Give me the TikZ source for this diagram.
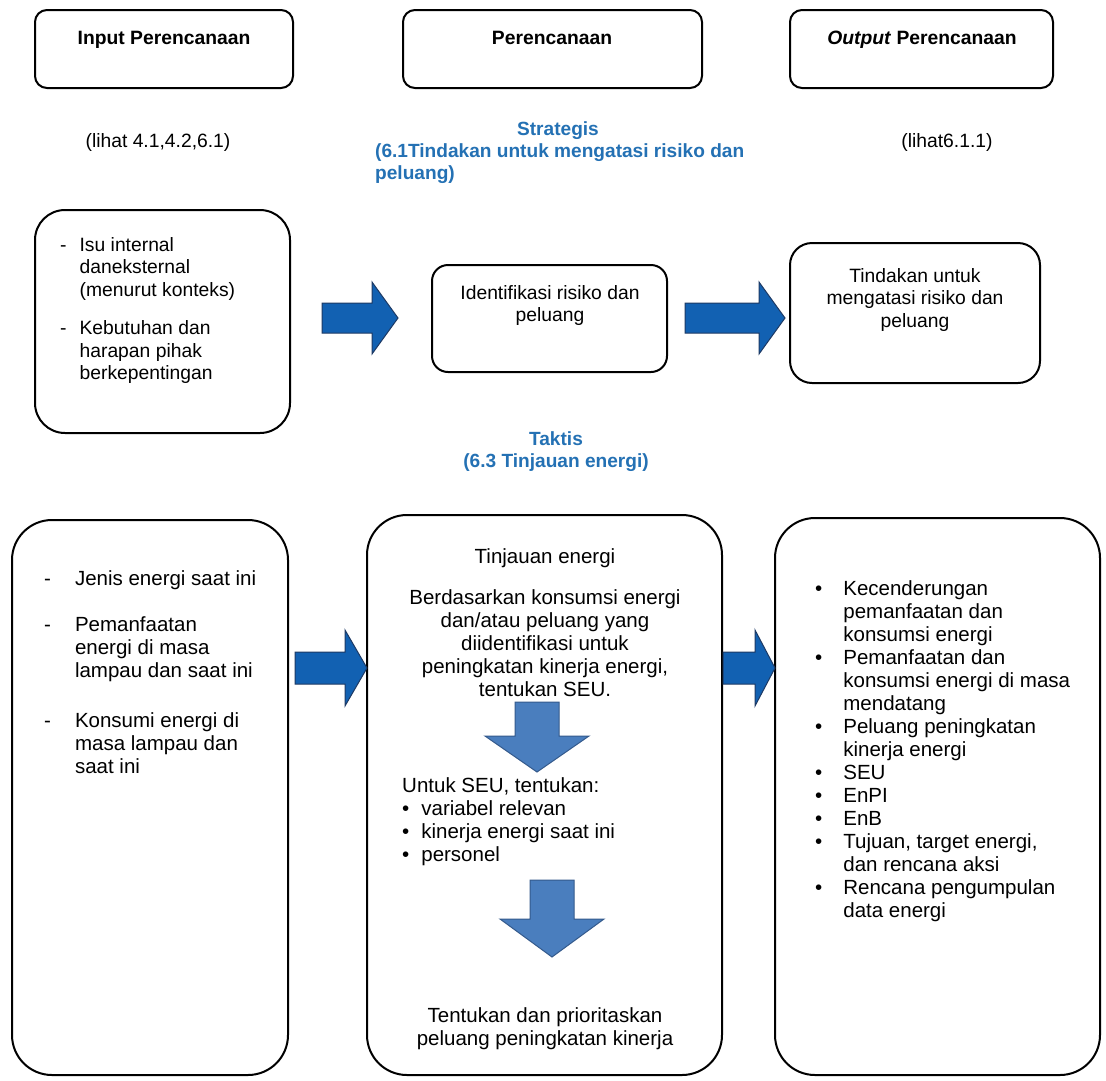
\documentclass[tikz,border=0pt]{standalone}
\usepackage{fontspec}
\setmainfont{Liberation Sans}
\definecolor{arrowdark}{RGB}{18,97,178}
\definecolor{arrowdarkline}{RGB}{30,58,100}
\definecolor{arrowlight}{RGB}{74,126,190}
\definecolor{arrowlightline}{RGB}{52,90,140}
\definecolor{bluetext}{RGB}{36,113,180}
\newcommand{\blk}[2]{\begin{tabular}[t]{@{}#1@{}}#2\end{tabular}}
\newcommand{\rightblock}[6]{%
  \draw[bigarrow] (#1,#3-#4) -- (#2-#6,#3-#4) -- (#2-#6,#3-#5) -- (#2,#3)
    -- (#2-#6,#3+#5) -- (#2-#6,#3+#4) -- (#1,#3+#4) -- cycle;}
\newcommand{\downblock}[6]{%
  \draw[downarrow] (#1-#4,#2) -- (#1+#4,#2) -- (#1+#4,#3-#6) -- (#1+#5,#3-#6)
    -- (#1,#3) -- (#1-#5,#3-#6) -- (#1-#4,#3-#6) -- cycle;}
\begin{document}
\begin{tikzpicture}[x=1pt,y=-1pt,
  box/.style={draw=black, line width=2pt, fill=white, inner sep=0pt},
  bigarrow/.style={fill=arrowdark, draw=arrowdarkline, line width=1pt},
  downarrow/.style={fill=arrowlight, draw=arrowlightline, line width=1pt},
  txt/.style={inner sep=0pt, font=\fontsize{19.3}{22.5}\selectfont},
  htxt/.style={inner sep=0pt, font=\fontsize{19.3}{22.5}\selectfont\bfseries},
  btxt/.style={inner sep=0pt, text=bluetext, font=\fontsize{19.1}{22.5}\selectfont\bfseries},
  ltxt/.style={inner sep=0pt, font=\fontsize{20.5}{23}\selectfont}]
\useasboundingbox (0,0) rectangle (1106,1080);
\fill[white] (0,0) rectangle (1106,1080);

% top header boxes
\node[box, rounded corners=12pt, minimum width=258pt, minimum height=78pt] (b1) at (164,49) {};
\node[box, rounded corners=12pt, minimum width=299pt, minimum height=78pt] (b2) at (552.5,49) {};
\node[box, rounded corners=12pt, minimum width=263pt, minimum height=78pt] (b3) at (921.5,49) {};
\node[htxt, anchor=base] (h1) at (164,44) {Input Perencanaan};
\node[htxt, anchor=base] (h2) at (552,44) {Perencanaan};
\node[htxt, anchor=base] (h3) at (922,44) {\textit{Output} Perencanaan};

\node[txt, anchor=base] (l1) at (158,147) {(lihat 4.1,4.2,6.1)};
\node[txt, anchor=base] (l3) at (947,147) {(lihat6.1.1)};
\node[btxt, anchor=base] (s1) at (558,135) {Strategis};
\node[btxt, anchor=base west] (s2) at (375,157) {\blk{l}{(6.1Tindakan untuk mengatasi risiko dan\\peluang)}};

% middle row
\node[box, rounded corners=30pt, minimum width=255pt, minimum height=223pt] (m1) at (162.5,321.5) {};
\node[box, rounded corners=16pt, minimum width=235pt, minimum height=107pt] (m2) at (549.5,318.5) {};
\node[box, rounded corners=22pt, minimum width=250pt, minimum height=140pt] (m3) at (915,313) {};
\node[txt, anchor=base west] (m1t) at (60,251) {\blk{l@{\hspace{13pt}}l}{-& Isu internal\\ & daneksternal\\ & (menurut konteks)\\[16pt] -& Kebutuhan dan\\ & harapan pihak\\ & berkepentingan}};
\node[txt, anchor=base] (m2t) at (550,299) {\blk{c}{Identifikasi risiko dan\\peluang}};
\node[txt, anchor=base] (m3t) at (915,282) {\blk{c}{Tindakan untuk\\mengatasi risiko dan\\peluang}};
\rightblock{322}{398}{318}{15}{36}{26}
\rightblock{685}{785}{318}{15}{36}{26}

\node[btxt, anchor=base] (tk) at (556,445) {\blk{c}{Taktis\\(6.3 Tinjauan energi)}};

% bottom row
\node[box, rounded corners=40pt, minimum width=276pt, minimum height=555pt] (n1) at (150,797.5) {};
\node[box, rounded corners=40pt, minimum width=355pt, minimum height=560pt] (n2) at (544.5,795) {};
\node[box, rounded corners=40pt, minimum width=325pt, minimum height=557pt] (n3) at (937.5,796.5) {};
\rightblock{295}{367}{668}{16}{38}{22}
\rightblock{723}{775}{668}{16}{38}{20}

\node[ltxt, anchor=base west] (n1t) at (44,585) {\blk{l@{\hspace{24pt}}l}{-& Jenis energi saat ini\\[23pt] -& Pemanfaatan\\ & energi di masa\\ & lampau dan saat ini\\[27pt] -& Konsumi energi di\\ & masa lampau dan\\ & saat ini}};

\node[ltxt, anchor=base] (n2a) at (545,563) {Tinjauan energi};
\node[ltxt, anchor=base] (n2b) at (545,604) {\blk{c}{Berdasarkan konsumsi energi\\dan/atau peluang yang\\diidentifikasi untuk\\peningkatan kinerja energi,\\tentukan SEU.}};
\downblock{537}{702}{772}{22}{52}{36}
\node[ltxt, anchor=base west] (n2c) at (402,792) {\blk{l@{\hspace{12pt}}l}{\multicolumn{2}{@{}l@{}}{Untuk SEU, tentukan:}\\ •& variabel relevan\\ •& kinerja energi saat ini\\ •& personel}};
\downblock{552}{880}{957}{22}{52}{38}
\node[ltxt, anchor=base] (n2d) at (545,1022) {\blk{c}{Tentukan dan prioritaskan\\peluang peningkatan kinerja}};

\node[ltxt, anchor=base west] (n3t) at (815,595) {\blk{l@{\hspace{21pt}}l}{•& Kecenderungan\\ & pemanfaatan dan\\ & konsumsi energi\\ •& Pemanfaatan dan\\ & konsumsi energi di masa\\ & mendatang\\ •& Peluang peningkatan\\ & kinerja energi\\ •& SEU\\ •& EnPI\\ •& EnB\\ •& Tujuan, target energi,\\ & dan rencana aksi\\ •& Rencana pengumpulan\\ & data energi}};
\end{tikzpicture}
\end{document}
